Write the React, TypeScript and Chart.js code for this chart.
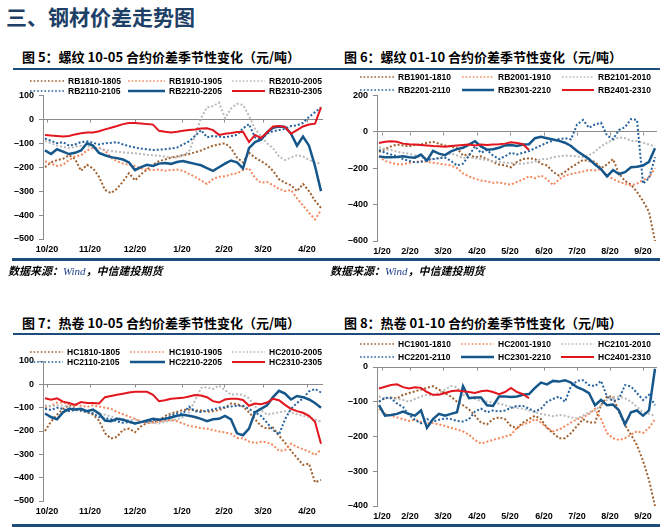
import React, { useEffect, useRef } from 'react';
import { Chart, registerables } from 'chart.js';

Chart.register(...registerables);

// ---------------- data ----------------
// every series is sampled from trading day FIRST_DAY, one value every DAY_STEP trading days
const FIRST_DAY = 1;
const DAY_STEP = 3;

const octMonthLabels = ['10/20', '11/20', '12/20', '1/20', '2/20', '3/20', '4/20'];
const octMonthDays = [2, 23.5, 46, 69.5, 90.5, 110, 132];
const janMonthLabels = ['1/20', '2/20', '3/20', '4/20', '5/20', '6/20', '7/20', '8/20', '9/20'];
const janMonthDays = [2.5, 16.5, 33, 50, 66.5, 83.5, 100, 116.5, 133];

// Figure 5: rebar 10-05
const rbOctNames = ['RB1810-1805', 'RB1910-1905', 'RB2010-2005', 'RB2110-2105', 'RB2210-2205', 'RB2310-2305'];
const rb1810_1805 = [-200, -180, -170, -165, -150, -165, -215, -190, -205, -240, -295, -308, -290, -260, -225, -255, -230, -210, -190, -175, -168, -160, -155, -150, -145, -138, -130, -120, -110, -105, -100, -120, -160, -180, -140, -160, -175, -190, -215, -250, -265, -275, -300, -270, -300, -340, -370];
const rb1910_1905 = [-175, -185, -195, -190, -170, -155, -150, -130, -120, -118, -130, -160, -175, -185, -190, -195, -205, -210, -212, -210, -215, -212, -210, -215, -228, -240, -255, -270, -250, -240, -238, -230, -225, -212, -205, -245, -265, -262, -275, -290, -300, -295, -330, -360, -390, -418, -380];
const rb2010_2005 = [-90, -100, -110, -115, -120, -115, -110, -112, -118, -122, -128, -132, -135, -138, -140, -142, -145, -148, -150, -152, -155, -158, -160, -150, -135, -70, 5, 50, 55, 70, 5, 45, 65, 60, 15, -40, -70, -100, -120, -155, -170, -160, -150, -155, -170, -180, -185];
const rb2110_2105 = [-80, -90, -100, -95, -110, -105, -95, -92, -98, -105, -100, -98, -95, -105, -112, -118, -122, -125, -128, -127, -125, -122, -118, -105, -92, -70, -45, -75, -70, -72, -75, -70, -65, -38, -20, -75, -85, -60, -50, -45, -40, -28, -25, -15, 10, 30, 50];
const rb2210_2205 = [-130, -145, -125, -135, -145, -140, -130, -100, -110, -140, -150, -158, -162, -168, -180, -212, -200, -190, -195, -185, -182, -186, -178, -174, -180, -186, -192, -204, -215, -200, -185, -172, -180, -205, -120, -95, -85, -55, -35, -30, -32, -60, -110, -72, -110, -195, -300];
const rb2310_2305 = [-65, -68, -70, -72, -70, -63, -58, -55, -55, -50, -42, -35, -28, -20, -15, -15, -17, -20, -22, -48, -52, -55, -52, -48, -45, -42, -38, -37, -45, -65, -60, -57, -53, -52, -95, -65, -78, -55, -30, -28, -32, -60, -45, -30, -22, -18, 50];

// Figure 6: rebar 01-10
const rbJanNames = ['RB1901-1810', 'RB2001-1910', 'RB2101-2010', 'RB2201-2110', 'RB2301-2210', 'RB2401-2310'];
const rb1901_1810 = [-110, -95, -80, -70, -75, -80, -72, -70, -60, -55, -65, -75, -80, -90, -130, -125, -140, -135, -150, -165, -180, -185, -195, -165, -150, -145, -150, -175, -185, -220, -240, -220, -195, -175, -155, -160, -165, -200, -180, -150, -230, -270, -290, -330, -380, -440, -600];
const rb2001_1910 = [-135, -160, -170, -178, -178, -172, -165, -162, -165, -170, -175, -180, -185, -200, -228, -245, -258, -268, -272, -280, -278, -285, -290, -275, -262, -245, -255, -240, -260, -292, -262, -240, -232, -225, -218, -210, -212, -205, -240, -260, -275, -285, -295, -285, -265, -250, -200];
const rb2101_2010 = [-85, -95, -100, -110, -115, -120, -130, -140, -150, -150, -145, -130, -118, -130, -145, -140, -145, -150, -155, -160, -165, -170, -172, -175, -175, -170, -165, -150, -150, -140, -135, -130, -132, -135, -140, -128, -110, -80, -60, -45, -30, -35, -50, -50, -60, -70, -80];
const rb2201_2110 = [-100, -115, -125, -135, -150, -160, -168, -165, -155, -150, -145, -142, -160, -185, -175, -130, -80, -115, -100, -130, -150, -135, -115, -124, -115, -106, -90, -75, -60, -48, -40, -35, -42, 40, 65, 22, 40, 50, -20, -40, 10, 25, 70, 65, -285, -255, -140];
const rb2301_2210 = [-135, -140, -140, -138, -135, -140, -142, -125, -158, -105, -120, -128, -108, -95, -88, -70, -52, -80, -98, -96, -88, -75, -72, -78, -70, -68, -35, -28, -35, -42, -50, -60, -78, -105, -128, -150, -180, -205, -245, -210, -232, -222, -195, -192, -185, -165, -90];
const rb2401_2310 = [-62, -55, -52, -55, -65, -68, -70, -72, -75, -78, -80, -82, -78, -75, -72, -70, -75, -70, -72, -70, -68, -65, -58, -62, -68, -100];

// Figure 7: hot-rolled coil 10-05
const hcOctNames = ['HC1810-1805', 'HC1910-1905', 'HC2010-2005', 'HC2110-2105', 'HC2210-2205', 'HC2310-2305'];
const hc1810_1805 = [-200, -160, -130, -105, -90, -100, -115, -120, -130, -155, -210, -232, -225, -195, -190, -205, -180, -165, -160, -158, -135, -125, -118, -110, -108, -112, -112, -118, -115, -110, -100, -82, -85, -95, -120, -150, -178, -190, -185, -220, -250, -285, -315, -345, -340, -420, -410];
const hc1910_1905 = [-100, -92, -78, -78, -85, -88, -92, -96, -90, -95, -100, -105, -118, -128, -138, -148, -160, -165, -165, -160, -155, -153, -158, -168, -178, -182, -188, -190, -196, -202, -206, -212, -230, -231, -245, -252, -246, -248, -260, -285, -282, -255, -268, -278, -288, -303, -280];
const hc2010_2005 = [-90, -95, -90, -92, -95, -105, -112, -118, -120, -125, -130, -138, -145, -150, -155, -150, -158, -162, -165, -168, -160, -155, -150, -140, -120, -70, -15, -12, -20, -5, -25, -45, -42, -45, -60, -95, -110, -130, -125, -120, -115, -120, -128, -135, -140, -150, -160];
const hc2110_2105 = [-105, -110, -100, -105, -115, -110, -112, -118, -125, -140, -145, -150, -158, -165, -162, -168, -162, -160, -155, -150, -145, -135, -125, -125, -95, -115, -118, -112, -108, -100, -98, -95, -92, -92, -105, -120, -135, -165, -195, -215, -150, -105, -80, -60, -30, -20, -35];
const hc2210_2205 = [-125, -140, -150, -120, -105, -108, -105, -115, -108, -125, -155, -158, -148, -152, -160, -168, -162, -155, -148, -152, -148, -142, -135, -130, -135, -140, -148, -158, -150, -148, -135, -150, -210, -218, -190, -120, -105, -90, -55, -28, -40, -65, -50, -55, -65, -80, -100];
const hc2310_2305 = [-60, -66, -60, -74, -80, -88, -76, -80, -80, -82, -55, -50, -45, -40, -35, -32, -32, -32, -45, -72, -68, -62, -60, -58, -52, -46, -48, -55, -72, -78, -65, -62, -62, -67, -92, -82, -85, -78, -62, -68, -88, -105, -115, -122, -135, -160, -255];

// Figure 8: hot-rolled coil 01-10
const hcJanNames = ['HC1901-1810', 'HC2001-1910', 'HC2101-2010', 'HC2201-2110', 'HC2301-2210', 'HC2401-2310'];
const hc1901_1810 = [-100, -90, -88, -90, -80, -75, -70, -65, -60, -55, -65, -75, -85, -100, -110, -122, -140, -160, -165, -150, -145, -150, -170, -176, -160, -150, -140, -150, -175, -190, -205, -205, -190, -170, -150, -160, -160, -110, -85, -85, -130, -167, -195, -225, -270, -325, -400];
const hc2001_1910 = [-120, -135, -140, -145, -150, -155, -152, -158, -160, -162, -165, -170, -175, -180, -185, -195, -210, -220, -215, -210, -205, -200, -195, -175, -165, -160, -150, -160, -175, -185, -180, -170, -160, -150, -145, -135, -120, -150, -190, -205, -210, -205, -195, -185, -190, -175, -150];
const hc2101_2010 = [-85, -90, -88, -92, -95, -100, -92, -85, -80, -82, -75, -65, -55, -58, -80, -85, -92, -98, -100, -102, -105, -110, -115, -118, -120, -125, -130, -135, -138, -142, -138, -140, -145, -148, -140, -130, -125, -110, -95, -88, -85, -90, -100, -115, -130, -135, -140];
const hc2201_2110 = [-100, -88, -90, -105, -115, -138, -152, -162, -150, -157, -152, -148, -150, -155, -157, -150, -128, -120, -130, -125, -128, -125, -118, -112, -112, -120, -128, -120, -100, -92, -85, -100, -55, -40, -38, -52, -55, -40, -85, -98, -92, -52, -56, -75, -95, -80, -110];
const hc2301_2210 = [-110, -140, -138, -135, -128, -135, -140, -125, -175, -150, -135, -140, -135, -130, -55, -90, -88, -88, -110, -112, -85, -85, -86, -85, -80, -78, -60, -45, -50, -40, -42, -38, -45, -58, -65, -75, -110, -95, -110, -108, -125, -165, -130, -125, -140, -125, -5];
const hc2401_2310 = [-62, -57, -52, -50, -58, -62, -58, -60, -72, -80, -80, -75, -70, -68, -70, -72, -75, -70, -68, -72, -78, -72, -60, -72, -78, -90];

// ---------------- styling ----------------
const AXIS_GRAY = '#8C8C8C';
const RULE_BLUE = '#1D4C7C';
const TITLE_BLUE = '#1E3F66';
const LATIN = '"Liberation Sans", Arial, Helvetica, sans-serif';
const CJK = '"Noto Sans CJK SC", "Noto Sans", sans-serif';
const AXIS_FONT = { family: LATIN, size: 9, weight: 'bold' as const };

type LineStyle = { color: string; dash: boolean; width: number };
const SERIES_STYLES: LineStyle[] = [
  { color: '#A0602E', dash: true, width: 2 },
  { color: '#F5885C', dash: true, width: 2 },
  { color: '#B9B9B9', dash: true, width: 2 },
  { color: '#2462A0', dash: true, width: 2 },
  { color: '#16578B', dash: false, width: 2.5 },
  { color: '#E3161E', dash: false, width: 2 },
];

type PanelSpec = {
  key: string;
  title: string;
  titleLeft: number;
  titleMid: number;
  canvasLeft: number;
  canvasTop: number;
  canvasWidth: number;
  canvasHeight: number;
  padTop: number;
  padRight: number;
  yAxisWidth: number;
  yMin: number;
  yMax: number;
  yStep: number;
  tickDays: number[];
  tickLabels: string[];
  names: string[];
  series: number[][];
  legendRowMid: number[];
  legendSampleLeft: number[];
  legendTextLeft: number[];
};

const PANELS: PanelSpec[] = [
  {
    key: 'p5', title: '图 5：螺纹 10-05 合约价差季节性变化（元/吨）', titleLeft: 22, titleMid: 57,
    canvasLeft: 0, canvasTop: 85, canvasWidth: 330, canvasHeight: 174, padTop: 10, padRight: 7, yAxisWidth: 43,
    yMin: -500, yMax: 100, yStep: 100, tickDays: octMonthDays, tickLabels: octMonthLabels,
    names: rbOctNames, series: [rb1810_1805, rb1910_1905, rb2010_2005, rb2110_2105, rb2210_2205, rb2310_2305],
    legendRowMid: [81, 91], legendSampleLeft: [30, 128, 232], legendTextLeft: [68, 169, 269],
  },
  {
    key: 'p6', title: '图 6：螺纹 01-10 合约价差季节性变化（元/吨）', titleLeft: 344, titleMid: 57,
    canvasLeft: 335, canvasTop: 85, canvasWidth: 330, canvasHeight: 176, padTop: 9, padRight: 8, yAxisWidth: 42,
    yMin: -600, yMax: 200, yStep: 200, tickDays: janMonthDays, tickLabels: janMonthLabels,
    names: rbJanNames, series: [rb1901_1810, rb2001_1910, rb2101_2010, rb2201_2110, rb2301_2210, rb2401_2310],
    legendRowMid: [77, 90], legendSampleLeft: [360, 462, 562], legendTextLeft: [398, 498, 598],
  },
  {
    key: 'p7', title: '图 7：热卷 10-05 合约价差季节性变化（元/吨）', titleLeft: 22, titleMid: 323,
    canvasLeft: 0, canvasTop: 350, canvasWidth: 330, canvasHeight: 171, padTop: 11, padRight: 7, yAxisWidth: 43,
    yMin: -500, yMax: 100, yStep: 100, tickDays: octMonthDays, tickLabels: octMonthLabels,
    names: hcOctNames, series: [hc1810_1805, hc1910_1905, hc2010_2005, hc2110_2105, hc2210_2205, hc2310_2305],
    legendRowMid: [352, 362], legendSampleLeft: [30, 130, 232], legendTextLeft: [67, 169, 269],
  },
  {
    key: 'p8', title: '图 8：热卷 01-10 合约价差季节性变化（元/吨）', titleLeft: 344, titleMid: 323,
    canvasLeft: 335, canvasTop: 355, canvasWidth: 330, canvasHeight: 171, padTop: 12, padRight: 8, yAxisWidth: 42,
    yMin: -400, yMax: 0, yStep: 100, tickDays: janMonthDays, tickLabels: janMonthLabels,
    names: hcJanNames, series: [hc1901_1810, hc2001_1910, hc2101_2010, hc2201_2110, hc2301_2210, hc2401_2310],
    legendRowMid: [344, 357], legendSampleLeft: [360, 461, 561], legendTextLeft: [398, 498, 598],
  },
];

const RULES = [
  { left: 13, top: 68, width: 647, height: 2 },
  { left: 12, top: 258, width: 648, height: 3 },
  { left: 13, top: 333, width: 647, height: 2 },
  { left: 12, top: 524, width: 648, height: 3 },
];

const SOURCES = [
  { left: 8, mid: 270 },
  { left: 330, mid: 270 },
];

// small tick marks on the zero line (the category axis crosses at 0)
const zeroLineTicks = {
  id: 'zeroLineTicks',
  beforeDatasetsDraw(chart: any) {
    const { ctx, scales } = chart;
    const x = scales.x;
    const y = scales.y;
    const y0 = Math.round(y.getPixelForValue(0)) + 0.5;
    ctx.save();
    ctx.strokeStyle = AXIS_GRAY;
    ctx.lineWidth = 1;
    ctx.beginPath();
    x.ticks.forEach((t: any) => {
      const px = Math.round(x.getPixelForValue(t.value)) + 0.5;
      ctx.moveTo(px, y0);
      ctx.lineTo(px, y0 + 3);
    });
    ctx.stroke();
    ctx.restore();
  },
};

function formatY(v: number | string) {
  const n = Number(v);
  return n < 0 ? '–' + Math.abs(n) : String(n);
}

function PanelChart({ p }: { p: PanelSpec }) {
  const ref = useRef<HTMLCanvasElement | null>(null);
  useEffect(() => {
    const canvas = ref.current;
    if (!canvas) return;
    const labelFor = (v: number) => {
      const i = p.tickDays.indexOf(Number(v));
      return i >= 0 ? p.tickLabels[i] : '';
    };
    const datasets = p.series.map((vals, si) => {
      const st = SERIES_STYLES[si];
      return {
        label: p.names[si],
        data: vals.map((v, i) => ({ x: FIRST_DAY + DAY_STEP * i, y: v })),
        borderColor: st.color,
        backgroundColor: st.color,
        borderWidth: st.width,
        borderDash: st.dash ? [2, 2] : [],
        borderCapStyle: 'butt' as const,
        pointRadius: 0,
        fill: false,
        tension: 0,
        order: 5 - si,
      };
    });
    const chart = new Chart(canvas, {
      type: 'line',
      data: { datasets },
      options: {
        responsive: false,
        maintainAspectRatio: false,
        animation: false,
        devicePixelRatio: 1,
        events: [],
        layout: { padding: { top: p.padTop, right: p.padRight, bottom: 0, left: 0 } },
        plugins: {
          legend: { display: false },
          tooltip: { enabled: false },
          title: { display: false },
        },
        scales: {
          x: {
            type: 'linear',
            min: 0,
            max: 140,
            grid: { display: false, drawTicks: false },
            border: { display: false },
            afterBuildTicks: (axis: any) => {
              axis.ticks = p.tickDays.map((value) => ({ value }));
            },
            afterFit: (axis: any) => {
              axis.height = 20;
            },
            ticks: {
              autoSkip: false,
              maxRotation: 0,
              minRotation: 0,
              padding: 5,
              color: '#000',
              font: AXIS_FONT,
              callback: (value: any) => labelFor(value),
            },
          },
          y: {
            type: 'linear',
            min: p.yMin,
            max: p.yMax,
            afterFit: (axis: any) => {
              axis.width = p.yAxisWidth;
            },
            grid: {
              color: (c: any) => (c.tick && c.tick.value === 0 ? AXIS_GRAY : 'rgba(0,0,0,0)'),
              lineWidth: 1,
              drawTicks: true,
              tickLength: 4,
              tickColor: AXIS_GRAY,
            },
            border: { display: true, color: AXIS_GRAY, width: 1 },
            ticks: {
              stepSize: p.yStep,
              padding: 5,
              color: '#000',
              font: AXIS_FONT,
              callback: (value: any) => formatY(value),
            },
          },
        },
      } as any,
      plugins: [zeroLineTicks],
    });
    return () => chart.destroy();
  }, [p]);
  return (
    <canvas
      ref={ref}
      width={p.canvasWidth}
      height={p.canvasHeight}
      style={{ position: 'absolute', left: p.canvasLeft, top: p.canvasTop, width: p.canvasWidth, height: p.canvasHeight }}
    />
  );
}

function LegendSample({ st, width }: { st: LineStyle; width: number }) {
  return (
    <svg width={width} height={4} style={{ display: 'block' }}>
      <line
        x1={0}
        y1={2}
        x2={width}
        y2={2}
        stroke={st.color}
        strokeWidth={st.dash ? 1.6 : st.width}
        strokeDasharray={st.dash ? '1.6 2' : undefined}
      />
    </svg>
  );
}

function PanelDecor({ p }: { p: PanelSpec }) {
  return (
    <>
      <div
        style={{
          position: 'absolute',
          left: p.titleLeft,
          top: p.titleMid - 9,
          height: 18,
          lineHeight: '18px',
          fontFamily: CJK,
          fontSize: 13,
          fontWeight: 700,
          color: '#000',
          whiteSpace: 'nowrap',
        }}
      >
        {p.title}
      </div>
      {p.names.map((name, si) => {
        const row = si < 3 ? 0 : 1;
        const col = si % 3;
        const mid = p.legendRowMid[row];
        const sLeft = p.legendSampleLeft[col];
        const tLeft = p.legendTextLeft[col];
        return (
          <React.Fragment key={name}>
            <div style={{ position: 'absolute', left: sLeft, top: mid - 2 }}>
              <LegendSample st={SERIES_STYLES[si]} width={tLeft - sLeft - 4} />
            </div>
            <div
              style={{
                position: 'absolute',
                left: tLeft,
                top: mid - 6,
                height: 12,
                lineHeight: '12px',
                fontFamily: LATIN,
                fontSize: 8.5,
                fontWeight: 700,
                color: '#000',
                whiteSpace: 'nowrap',
              }}
            >
              {name}
            </div>
          </React.Fragment>
        );
      })}
    </>
  );
}

export default function App() {
  return (
    <div
      style={{
        position: 'absolute',
        left: 0,
        top: 0,
        width: 670,
        height: 530,
        overflow: 'hidden',
        background: '#ffffff',
        fontFamily: CJK,
      }}
    >
      <div
        style={{
          position: 'absolute',
          left: 6,
          top: 3,
          height: 26,
          lineHeight: '26px',
          fontFamily: CJK,
          fontSize: 21,
          fontWeight: 700,
          color: TITLE_BLUE,
          whiteSpace: 'nowrap',
        }}
      >
        三、钢材价差走势图
      </div>
      {PANELS.map((p) => (
        <PanelChart key={p.key} p={p} />
      ))}
      {PANELS.map((p) => (
        <PanelDecor key={p.key + '-d'} p={p} />
      ))}
      {RULES.map((r, i) => (
        <div
          key={'rule' + i}
          style={{ position: 'absolute', left: r.left, top: r.top, width: r.width, height: r.height, background: RULE_BLUE }}
        />
      ))}
      {SOURCES.map((s, i) => (
        <div
          key={'src' + i}
          style={{
            position: 'absolute',
            left: s.left,
            top: s.mid - 8,
            height: 16,
            lineHeight: '16px',
            fontFamily: CJK,
            fontSize: 11,
            fontWeight: 700,
            fontStyle: 'italic',
            color: '#000',
            whiteSpace: 'nowrap',
          }}
        >
          数据来源：
          <span style={{ fontFamily: '"Liberation Serif", "Times New Roman", serif', color: '#1F3F8F', fontWeight: 400 }}>Wind</span>
          ，中信建投期货
        </div>
      ))}
    </div>
  );
}
